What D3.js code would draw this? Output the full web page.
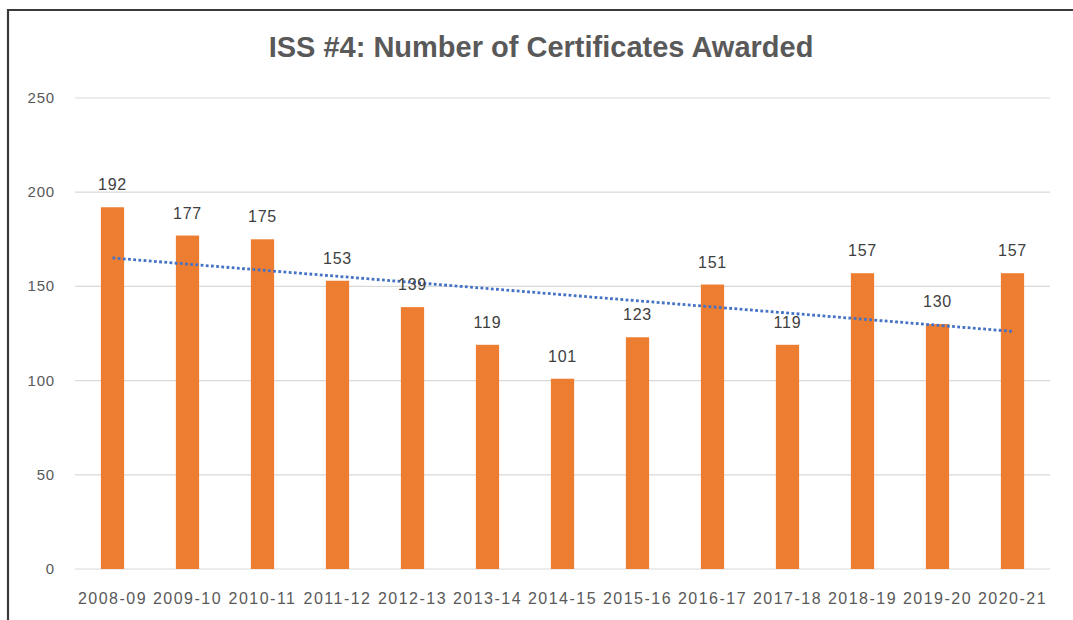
<!DOCTYPE html>
<html>
<head>
<meta charset="utf-8">
<script src="https://cdn.jsdelivr.net/npm/d3@7"></script>
<style>
  body { margin: 0; background: #fff; }
  text { font-family: "Liberation Sans", Arial, sans-serif; }
</style>
</head>
<body>
<script>
// data
const years = ["2008-09", "2009-10", "2010-11", "2011-12", "2012-13", "2013-14", "2014-15",
               "2015-16", "2016-17", "2017-18", "2018-19", "2019-20", "2020-21"];
const certificates = [192, 177, 175, 153, 139, 119, 101, 123, 151, 119, 157, 130, 157];
const yTicks = [0, 50, 100, 150, 200, 250];

const W = 1073, H = 620;
const margin = { top: 98, right: 23, bottom: 51, left: 75 };
const width = W - margin.left - margin.right;
const height = H - margin.top - margin.bottom;

const root = d3.select("body").append("svg")
    .attr("width", W)
    .attr("height", H);

// outer frame (only top + left visible)
root.append("path")
    .attr("d", "M8,640 L8,10 L1080,10")
    .attr("fill", "none")
    .attr("stroke", "#3a3a3a")
    .attr("stroke-width", 2.2);

root.append("text")
    .attr("x", 541)
    .attr("y", 57)
    .attr("text-anchor", "middle")
    .attr("font-size", "29px")
    .attr("font-weight", "bold")
    .attr("fill", "#595959")
    .text("ISS #4: Number of Certificates Awarded");

const svg = root.append("g")
    .attr("transform", "translate(" + margin.left + "," + margin.top + ")");

var xScale = d3.scaleBand()
    .domain(years)
    .range([0, width])
    .paddingInner(0.69)
    .paddingOuter(0.345);

var yScale = d3.scaleLinear()
    .domain([0, 250])
    .range([height, 0]);

// gridlines
svg.selectAll(".grid")
    .data(yTicks)
    .enter().append("line")
    .attr("class", "grid")
    .attr("x1", 0)
    .attr("x2", width)
    .attr("y1", d => yScale(d))
    .attr("y2", d => yScale(d))
    .attr("stroke", "#d9d9d9")
    .attr("stroke-width", 1.2);

// y axis
let yAxis = d3.axisLeft(yScale).tickValues(yTicks).tickSize(0).tickPadding(20);
svg.append("g")
    .attr("class", "y-axis")
    .call(yAxis)
    .call(g => g.select(".domain").remove())
    .selectAll("text")
    .attr("font-size", "15px")
    .attr("letter-spacing", "0.8px")
    .attr("fill", "#595959")
    .attr("dy", "0.3em");

// x axis
let xAxis = d3.axisBottom(xScale).tickSize(0).tickPadding(24);
svg.append("g")
    .attr("class", "x-axis")
    .attr("transform", "translate(0," + height + ")")
    .call(xAxis)
    .call(g => g.select(".domain").remove())
    .selectAll("text")
    .attr("font-size", "16px")
    .attr("letter-spacing", "1.5px")
    .attr("fill", "#595959");

// bars
svg.selectAll(".bar")
    .data(certificates)
    .enter().append("rect")
    .attr("class", "bar")
    .attr("x", (d, i) => xScale(years[i]))
    .attr("width", xScale.bandwidth())
    .attr("y", d => yScale(d))
    .attr("height", d => height - yScale(d))
    .attr("fill", "#ED7D31");

// linear trendline (least squares on the data)
const n = certificates.length;
const mx = d3.mean(certificates, (d, i) => i);
const my = d3.mean(certificates);
const slope = d3.sum(certificates, (d, i) => (i - mx) * (d - my)) / d3.sum(certificates, (d, i) => (i - mx) * (i - mx));
const icpt = my - slope * mx;
const cx = i => xScale(years[i]) + xScale.bandwidth() / 2;

svg.append("line")
    .attr("x1", cx(0))
    .attr("x2", cx(n - 1))
    .attr("y1", yScale(icpt))
    .attr("y2", yScale(icpt + slope * (n - 1)))
    .attr("stroke", "#4472C4")
    .attr("stroke-width", 2.8)
    .attr("stroke-dasharray", "2.8,2.4");

// labels
svg.selectAll(".label")
    .data(certificates)
    .enter().append("text")
    .attr("class", "label")
    .attr("x", (d, i) => cx(i))
    .attr("y", d => yScale(d) - 17)
    .attr("text-anchor", "middle")
    .attr("font-size", "16px")
    .attr("letter-spacing", "0.8px")
    .attr("fill", "#404040")
    .text(d => d);
</script>
</body>
</html>
